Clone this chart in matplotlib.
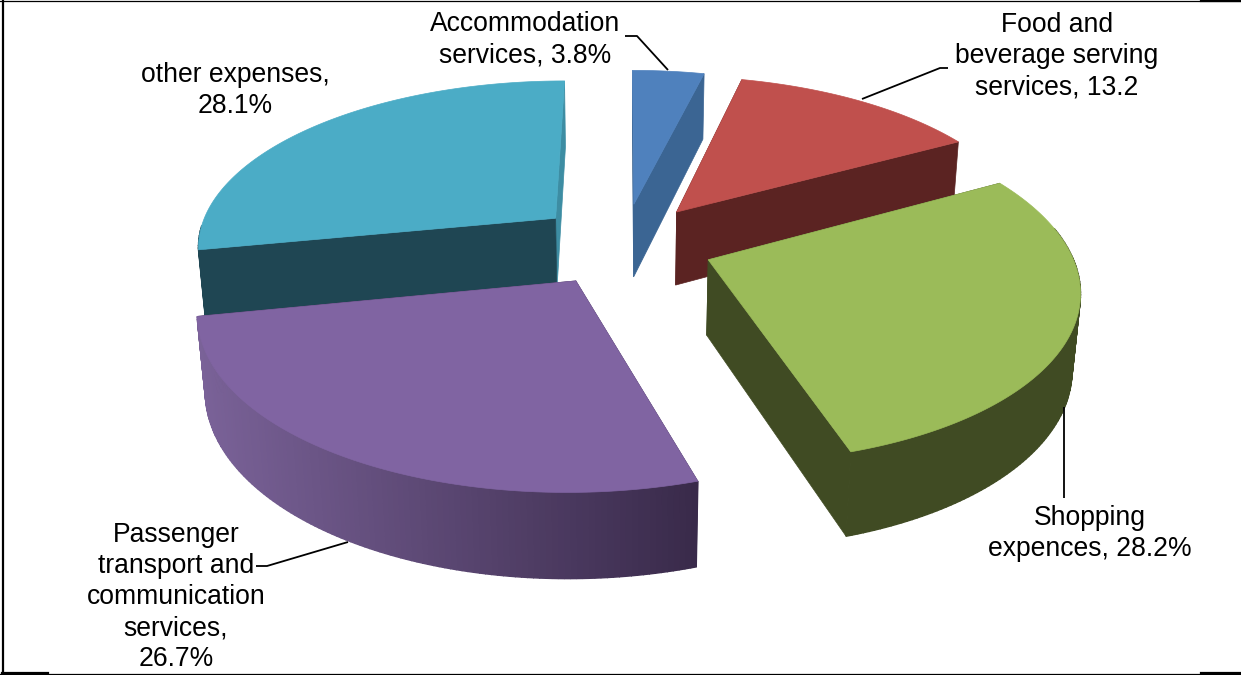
import numpy as np
import matplotlib
matplotlib.use("Agg")
import matplotlib.pyplot as plt

plt.rcParams["font.family"] = ["Liberation Sans", "DejaVu Sans"]

# shares, clockwise from 12 o'clock
names = [
    "Accommodation\nservices, 3.8%",
    "Food and\nbeverage serving\nservices, 13.2",
    "Shopping\nexpences, 28.2%",
    "Passenger\ntransport and\ncommunication\nservices,\n26.7%",
    "other expenses,\n28.1%",
]
values = [3.8, 13.2, 28.2, 26.7, 28.1]

top_colors = ["#4F81BD", "#C0504D", "#9BBB59", "#8064A2", "#4BACC6"]
start_wall = ["#3B6593", "#5B2322", "#404B23", "#3A2A4C", "#1F4653"]
end_wall = ["#3B6593", "#5B2322", "#404B23", "#3A2A4C", "#3D8DA3"]
rim_left = ["#3B6593", "#5B2322", "#404B23", "#7A6298", "#1F4653"]
rim_right = ["#3B6593", "#5B2322", "#404B23", "#392A4A", "#1F4653"]

# projection of the pie plane onto the picture, in pixels
X0, Y0 = 623.5, 244
A, B = 360, 166
K, M = 0.155, 0.018
DEPTH = 76
EXPLODE = 0.25


def project(x, y, z=0.0):
    w = 1 + K * y + M * z
    return X0 + A * x / w, Y0 + (-B * y + DEPTH * z) / w


def hex_rgb(c):
    return np.array(matplotlib.colors.to_rgb(c))


fig = plt.figure(figsize=(12.41, 6.75), dpi=100)
ax = fig.add_axes([0, 0, 1, 1])
ax.set_xlim(0, 1241)
ax.set_ylim(675, 0)
ax.axis("off")

fracs = np.array(values) / np.sum(values)
stops = np.concatenate([[0], np.cumsum(fracs)]) * 2 * np.pi

# back to front so nearer slices paint over the others
for i in [0, 4, 1, 3, 2]:
    t = np.linspace(stops[i], stops[i + 1], 120)
    mid = (stops[i] + stops[i + 1]) / 2
    ox, oy = EXPLODE * np.sin(mid), EXPLODE * np.cos(mid)
    rx, ry = ox + np.sin(t), oy + np.cos(t)

    tx, ty = project(rx, ry)
    bx, by = project(rx, ry, 1)

    # radial walls
    ax0, ay0 = project(ox, oy)
    ax1, ay1 = project(ox, oy, 1)
    ax.fill(
        [ax0, tx[-1], bx[-1], ax1],
        [ay0, ty[-1], by[-1], ay1],
        color=end_wall[i],
        lw=0.5,
    )
    ax.fill(
        [ax0, tx[0], bx[0], ax1],
        [ay0, ty[0], by[0], ay1],
        color=start_wall[i],
        lw=0.5,
    )

    # outer wall, shaded across its width, back part is never seen
    lo, hi = min(tx.min(), bx.min()), max(tx.max(), bx.max())
    for j in range(len(t) - 1):
        if ry[j] > 0.1:
            continue
        s = ((tx[j] + tx[j + 1]) / 2 - lo) / max(hi - lo, 1)
        col = hex_rgb(rim_left[i]) * (1 - s) + hex_rgb(rim_right[i]) * s
        ax.fill(
            [tx[j], tx[j + 1], bx[j + 1], bx[j]],
            [ty[j], ty[j + 1], by[j + 1], by[j]],
            color=col,
            lw=1.0,
        )

    # top face
    ax.fill(
        np.concatenate([[ax0], tx]),
        np.concatenate([[ay0], ty]),
        color=top_colors[i],
        lw=0.5,
    )

# labels
label_pos = [(525, 40), (1057, 56), (1090, 533.5), (176, 597), (235, 90.5)]
for name, (lx, ly) in zip(names, label_pos):
    ax.text(
        lx, ly, name, ha="center", va="center", ma="center",
        fontsize=19.1, linespacing=1.26, color="black", zorder=3,
    )

# leader lines
leaders = [
    ([625, 637, 668], [36, 36, 70]),
    ([948, 940, 862], [68, 68, 99]),
    ([1064, 1064], [407, 498]),
    ([256, 267, 348], [566, 566, 542]),
]
for lx, ly in leaders:
    ax.plot(lx, ly, color="black", lw=1.3, zorder=2, solid_capstyle="butt")

# frame: no right side, thicker stubs at the corners
ax.plot([3, 3], [0, 674], color="black", lw=1.6, zorder=4)
ax.plot([0, 1241], [673.5, 673.5], color="black", lw=0.9, zorder=4)
ax.plot([0, 1241], [0.5, 0.5], color="black", lw=0.9, zorder=4)
ax.plot([2, 48], [673, 673], color="black", lw=1.6, zorder=4)
ax.plot([1201, 1241], [673, 673], color="black", lw=1.6, zorder=4)
ax.plot([1201, 1241], [1, 1], color="black", lw=1.6, zorder=4)

fig.savefig("out.png", dpi=100)
plt.close()
